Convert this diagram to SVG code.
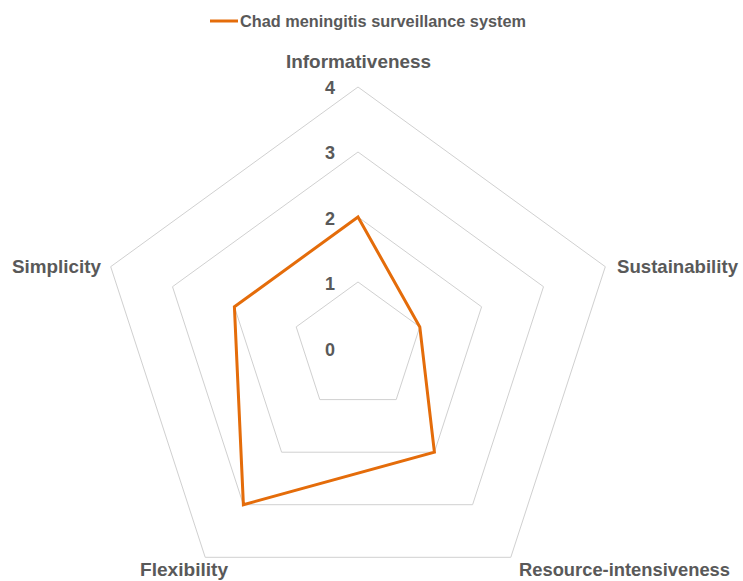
<svg xmlns="http://www.w3.org/2000/svg" width="743" height="581" viewBox="0 0 743 581">
<style>
.grid{fill:none;stroke:#d0d0d0;stroke-width:1}
.data{fill:none;stroke:#E46C0A;stroke-width:3;stroke-linejoin:miter}
.lbl{font-family:"Liberation Sans",Arial,sans-serif;font-weight:bold;fill:#595959}
.cat{font-size:18.5px}
.tick{font-size:18px}
.leg{font-size:16px}
</style>
<rect width="743" height="581" fill="#ffffff"/>
<g id="grid">
<polygon class="grid" points="358,87 605.3,266.7 510.8,557.3 205.2,557.3 110.7,266.7"/>
<polygon class="grid" points="358,152 543.5,286.7 472.6,504.7 243.4,504.7 172.5,286.7"/>
<polygon class="grid" points="358,217 481.6,306.8 434.4,452.2 281.6,452.2 234.4,306.8"/>
<polygon class="grid" points="358,282 419.8,326.9 396.2,399.6 319.8,399.6 296.2,326.9"/>
</g>
<g id="series">
<polygon class="data" points="358,217 419.8,326.9 434.4,452.2 243.4,504.7 234.4,306.8"/>
</g>
<g id="ticks" class="lbl tick">
<text x="325" y="94">4</text>
<text x="325" y="159">3</text>
<text x="325" y="224.5">2</text>
<text x="325" y="290">1</text>
<text x="325" y="356">0</text>
</g>
<g id="categories" class="lbl cat">
<text x="286" y="68" textLength="145" lengthAdjust="spacingAndGlyphs">Informativeness</text>
<text x="617" y="273" textLength="121" lengthAdjust="spacingAndGlyphs">Sustainability</text>
<text x="519" y="576" textLength="211" lengthAdjust="spacingAndGlyphs">Resource-intensiveness</text>
<text x="140" y="576" textLength="88" lengthAdjust="spacingAndGlyphs">Flexibility</text>
<text x="12" y="273" textLength="89" lengthAdjust="spacingAndGlyphs">Simplicity</text>
</g>
<g id="legend">
<line x1="210" y1="21" x2="238" y2="21" stroke="#E46C0A" stroke-width="3"/>
<text class="lbl leg" x="240" y="27" textLength="286" lengthAdjust="spacingAndGlyphs">Chad meningitis surveillance system</text>
</g>
</svg>
